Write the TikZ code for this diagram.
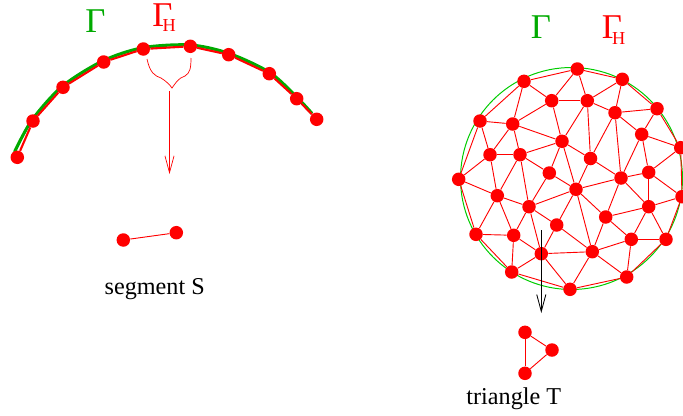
\documentclass[tikz,border=0pt]{standalone}
\usepackage{fontspec}
\setmainfont{Liberation Serif}
\definecolor{MeshRed}{HTML}{FF0000}
\definecolor{CurveGreen}{HTML}{00AA00}
\definecolor{CircleGreen}{HTML}{00CC00}
\usetikzlibrary{arrows.meta}
\tikzset{
  vertex/.style={circle, fill=MeshRed, inner sep=0pt, minimum size=9.6pt},
  meshedge/.style={draw=MeshRed, line width=0.65pt},
  thickedge/.style={draw=MeshRed, line width=1.5pt},
  curve/.style={draw=CurveGreen, line width=2.2pt},
  arrow/.style={-{Straight Barb[length=12pt,width=6.5pt]}, line width=0.6pt},
  caption/.style={font=\fontsize{17.2}{20}\selectfont, anchor=base, inner sep=0pt},
  gammalabel/.style={font=\fontsize{24.7}{26}\selectfont, anchor=base west, inner sep=0pt}
}
\newcommand{\gammaH}{\textcolor{MeshRed}{Γ\kern-7pt\raisebox{-4.2pt}{\fontsize{13}{13}\selectfont H}}}

\begin{document}
\begin{tikzpicture}[x=0.025cm,y=-0.025cm]
    \useasboundingbox (0,0) rectangle (683,415);

    % left: arc and polygonal approximation
    \draw[curve] plot[smooth] coordinates {(14.5,152) (32,120) (62.3,86.3) (103,60.8) (143,47.7) (190.3,45) (229.2,53.5) (270,72.7) (297.6,98) (312,113.5)};
    \foreach \name/\px/\py in {l1/17.3/157.3, l2/33/121, l3/63/87.3, l4/103.7/62, l5/143.3/49,
      l6/190.3/46.3, l7/228.7/54.7, l8/269.3/73.7, l9/296.7/98.7, l10/316.7/119.3}
      \node[vertex] (\name) at (\px,\py) {};
    \foreach \a/\b in {l1/l2, l2/l3, l3/l4, l4/l5, l5/l6, l6/l7, l7/l8, l8/l9, l9/l10}
      \draw[thickedge] (\a) -- (\b);

    \node[gammalabel, text=CurveGreen] (gammaL) at (85,32.3) {Γ};
    \node[gammalabel] (gammaHL) at (152,26) {\gammaH};

    % brace and arrow down to the segment
    \coordinate (braceL) at (147,59);
    \coordinate (braceM) at (172,88);
    \coordinate (braceR) at (191,58);
    \coordinate (segtop) at (169.5,91);
    \coordinate (segtip) at (169.5,174);
    \draw[meshedge, line width=0.5pt] (braceL) .. controls (150,73) and (155,76) .. (161,78) .. controls (166,81) and (170,85) .. (braceM)
      .. controls (175,84) and (178,78) .. (185,76) .. controls (190,73) and (191,68) .. (braceR);
    \draw[arrow, MeshRed, line width=0.5pt] (segtop) -- (segtip);

    \node[vertex] (sa) at (123.3,240) {};
    \node[vertex] (sb) at (176.3,232.7) {};
    \draw[meshedge] (sa) -- (sb);
    \node[caption] (segcap) at (154.7,294.5) {segment S};

    % right: disc and triangulation
    \draw[draw=CircleGreen, line width=0.7pt] (571.5,178.5) circle (111);
    \foreach \name/\px/\py in {a1/577.3/69, a2/524/81.3, a3/622.3/79.3, a4/657/108.7, a5/480/121,
      a6/680.7/147.7, a7/458.7/179.3, b1/551.7/100.7, b2/587.3/100.7, b3/615/112.7,
      c1/512.7/124, c2/562/141.3, c3/641.7/134.3, d1/490/154.7, d2/520/154.7, d3/590.5/158.5,
      e1/549.3/173, f/621/178, g/648.7/172.3, h/576/189.3, i/497.3/195.7, j/529/206.7,
      k/682/196.7, l/648.7/206.7, m/605.7/217, n/556.7/225, o/476/234.3, p/513.7/235.3,
      q/631.3/239.3, r/666/239.3, s/541.3/253.7, t/592.3/251.7, u/511.7/272, v/626.7/277, w/570/289.3}
      \node[vertex] (\name) at (\px,\py) {};
    \foreach \a/\b in {a2/a1, a1/a3, a3/a4, a4/a6, a6/k, k/r, r/v, v/w, w/u, u/o, o/a7, a7/a5, a5/a2,
      a2/b1, a2/c1, a1/b1, a1/b2, a3/b2, a3/b3, b1/b2, b2/b3, b3/a4, a4/c3, c3/a6, c3/b3,
      b1/c1, b1/c2, b2/c2, b2/d3, b3/d3, b3/f, c3/f, c3/g, a5/c1, a5/d1, c1/d1, c1/d2, c1/c2,
      d1/d2, d2/c2, c2/d3, c2/e1, c2/h, d3/h, d3/f, f/g, g/a6, g/l, g/k, f/h, f/m, f/l,
      l/k, l/m, l/q, l/r, m/h, m/q, m/t, h/e1, h/j, h/n, h/t, d2/e1, d2/j, d2/i, d1/i, d1/a7,
      a7/i, e1/j, i/j, i/o, i/p, j/p, j/s, j/n, n/s, n/t, o/p, p/s, p/u, s/u, s/w, s/t,
      t/q, t/v, t/w, q/r, q/v}
      \draw[meshedge] (\a) -- (\b);

    \node[gammalabel, text=CurveGreen] (gammaR) at (530.5,38.3) {Γ};
    \node[gammalabel] (gammaHR) at (601.5,38.8) {\gammaH};

    \coordinate (tritop) at (541.3,230);
    \coordinate (tritip) at (541.3,313);
    \draw[arrow, black] (tritop) -- (tritip);

    \node[vertex] (ta) at (525,332.3) {};
    \node[vertex] (tb) at (552,350) {};
    \node[vertex] (tc) at (525,373.3) {};
    \draw[meshedge] (ta) -- (tb);
    \draw[meshedge] (tb) -- (tc);
    \draw[meshedge] (tc) -- (ta);
    \node[caption] (tricap) at (513.8,404.3) {triangle T};
  \end{tikzpicture}
\end{document}
